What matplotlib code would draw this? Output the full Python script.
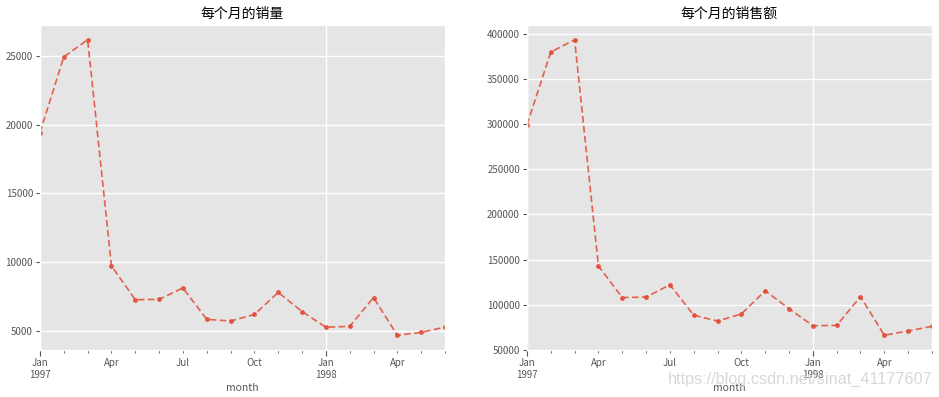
import matplotlib

matplotlib.use("Agg")
import matplotlib.pyplot as plt  # noqa: E402

plt.style.use("ggplot")
plt.rcParams["font.family"] = ["Noto Sans CJK SC", "DejaVu Sans"]
plt.rcParams["axes.unicode_minus"] = False

# monthly totals, Jan 1997 .. Jun 1998
months = ["1997-01", "1997-02", "1997-03", "1997-04", "1997-05", "1997-06",
          "1997-07", "1997-08", "1997-09", "1997-10", "1997-11", "1997-12",
          "1998-01", "1998-02", "1998-03", "1998-04", "1998-05", "1998-06"]
products = [19416, 24921, 26159, 9729, 7275, 7301, 8131, 5851, 5729,
            6203, 7812, 6418, 5278, 5340, 7431, 4697, 4903, 5287]
amount = [299060, 379590, 393155, 142824, 107933, 108396, 122079, 88368, 81949,
          89781, 115449, 95577, 76757, 77097, 108970, 66232, 70928, 76069]

major_pos = [0, 12]
major_labels = ["Jan\n1997", "Jan\n1998"]
minor_pos = list(range(len(months)))
minor_labels = ["", "", "", "Apr", "", "", "Jul", "", "", "Oct", "", "",
                "", "", "", "Apr", "", ""]

titles = ["每个月的销量", "每个月的销售额"]

fig = plt.figure(figsize=(9.39, 3.97), dpi=100)
ax1 = fig.add_axes([0.0426, 0.1184, 0.4313, 0.8186])
ax2 = fig.add_axes([0.5612, 0.1184, 0.4313, 0.8186])

x = list(range(len(months)))
for ax, vals, title in zip((ax1, ax2), (products, amount), titles):
    ax.plot(x, vals, linestyle="--", marker=".", color="#E24A33", alpha=0.85,
            lw=1.2, ms=5, dashes=(4, 2))
    ax.set_xlim(0, len(months) - 1)
    ax.set_xticks(major_pos)
    ax.set_xticklabels(major_labels)
    ax.set_xticks(minor_pos, minor=True)
    ax.set_xticklabels(minor_labels, minor=True)
    ax.tick_params(axis="x", which="major", length=4, labelsize=7, pad=2)
    ax.tick_params(axis="x", which="minor", length=2, labelsize=7, pad=3.5,
                   colors="#555555")
    ax.tick_params(axis="y", labelsize=7, length=3, pad=2)
    ax.grid(True, which="major", color="white", lw=1)
    ax.set_title(title, fontsize=10, pad=5)
    ax.set_xlabel("month", fontsize=7.5, labelpad=2)

fig.text(0.852, 0.045, "https://blog.csdn.net/sinat_41177607",
         family="Liberation Sans", fontsize=11.7, color="#d8d8d8",
         ha="center", va="center")

fig.savefig("out.png", dpi=100)
